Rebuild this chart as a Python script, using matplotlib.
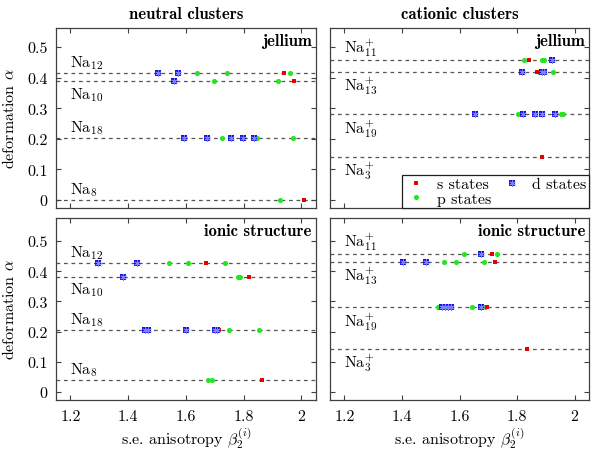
import matplotlib
matplotlib.use("Agg")
import matplotlib.pyplot as plt

plt.rcParams.update({
    "font.family": "serif",
    "font.serif": ["cmr10"],
    "mathtext.fontset": "cm",
    "axes.formatter.use_mathtext": True,
    "font.size": 11.5,
})

# cluster names (labels above / below their dashed line)
neutral_names = [r"Na$_{12}$", r"Na$_{10}$", r"Na$_{18}$", r"Na$_{8}$"]
neutral_above = [True, False, True, True]
cation_names = [r"Na$_{11}^{+}$", r"Na$_{13}^{+}$", r"Na$_{19}^{+}$", r"Na$_{3}^{+}$"]
cation_above = [True, False, False, False]

# jellium, neutral
jn_alpha = [0.414, 0.388, 0.204, 0.0]
jn_s = [[1.939], [1.976], [], [2.009]]
jn_p = [[1.640, 1.741, 1.960], [1.699, 1.920], [1.726, 1.846, 1.972], [1.927]]
jn_d = [[1.505, 1.573], [1.559], [1.593, 1.672, 1.758, 1.797, 1.835], []]

# jellium, cationic
jc_alpha = [0.457, 0.420, 0.281, 0.142]
jc_s = [[1.841], [1.868], [], [1.888]]
jc_p = [[1.823, 1.885, 1.895], [1.876, 1.924], [1.804, 1.952, 1.958], []]
jc_d = [[1.923], [1.816, 1.885, 1.893], [1.653, 1.821, 1.864, 1.885, 1.932], []]

# ionic structure, neutral
in_alpha = [0.427, 0.382, 0.204, 0.040]
in_s = [[1.669], [1.819], [1.716], [1.863]]
in_p = [[1.540, 1.607, 1.737], [1.779, 1.787], [1.748, 1.854], [1.678, 1.690]]
in_d = [[1.294, 1.431], [1.381], [1.460, 1.470, 1.599, 1.700, 1.709], []]

# ionic structure, cationic
ic_alpha = [0.456, 0.432, 0.282, 0.144]
ic_s = [[1.714], [1.723], [1.697], [1.833]]
ic_p = [[1.615, 1.730], [1.546, 1.587, 1.686], [1.524, 1.644, 1.690], []]
ic_d = [[1.673], [1.403, 1.483], [1.538, 1.550, 1.561, 1.571, 1.676], []]

x_ticks = [1.2, 1.4, 1.6, 1.8, 2.0]
x_ticklabels = ["1.2", "1.4", "1.6", "1.8", "2"]
y_ticks = [0, 0.1, 0.2, 0.3, 0.4, 0.5]
y_ticklabels = ["0", "0.1", "0.2", "0.3", "0.4", "0.5"]

RED = "#e80000"
GREEN = "#22e622"
BLUE = "#1010e0"
SPINE = "#404040"


def draw_panel(ax, alpha, s, p, d, names, above):
    handles = {}
    for k, a in enumerate(alpha):
        ax.axhline(a, color="#555555", lw=0.9, ls=(0, (3, 3)), zorder=1)
        off = 1.5 if above[k] else -2.5
        ax.annotate(names[k], (1.2, a), xytext=(0, off), textcoords="offset points",
                    ha="left", va="bottom" if above[k] else "top", fontsize=11.5)
        ys = [a] * len(p[k])
        handles["p"], = ax.plot(p[k], ys, "o", color=GREEN, ms=3.7, mew=0, zorder=3)
        ys = [a] * len(s[k])
        handles["s"], = ax.plot(s[k], ys, "s", color=RED, ms=3.5, mew=0, zorder=4)
        ys = [a] * len(d[k])
        handles["d1"], = ax.plot(d[k], ys, "s", color=BLUE, ms=4.0, mew=0, zorder=5)
        handles["d2"], = ax.plot(d[k], ys, marker=(6, 2, 0), ls="none", color="#8080ff",
                                 ms=4.6, mew=0.6, zorder=6)
    ax.set_xlim(1.15, 2.05)
    ax.set_xticks(x_ticks)
    ax.set_yticks(y_ticks)
    ax.tick_params(direction="in", top=True, right=True, length=3.5, width=0.8,
                   color=SPINE, labelsize=11.5)
    ax.tick_params(axis="x", pad=7)
    ax.tick_params(axis="y", pad=6)
    for sp in ax.spines.values():
        sp.set_color(SPINE)
        sp.set_linewidth(0.9)
    return handles


fig = plt.figure(figsize=(5.93, 4.52), dpi=100)
ax_jn = fig.add_axes([0.0944, 0.5376, 0.438, 0.398])
ax_jc = fig.add_axes([0.5565, 0.5376, 0.4368, 0.398])
ax_in = fig.add_axes([0.0944, 0.1135, 0.438, 0.402])
ax_ic = fig.add_axes([0.5565, 0.1135, 0.4368, 0.402])

draw_panel(ax_jn, jn_alpha, jn_s, jn_p, jn_d, neutral_names, neutral_above)
h = draw_panel(ax_jc, jc_alpha, jc_s, jc_p, jc_d, cation_names, cation_above)
draw_panel(ax_in, in_alpha, in_s, in_p, in_d, neutral_names, neutral_above)
draw_panel(ax_ic, ic_alpha, ic_s, ic_p, ic_d, cation_names, cation_above)

for ax in (ax_jn, ax_jc):
    ax.set_ylim(-0.026, 0.562)
    ax.set_xticklabels([])
for ax in (ax_in, ax_ic):
    ax.set_ylim(-0.025, 0.576)
    ax.set_xticklabels(x_ticklabels)
    ax.set_xlabel(r"s.e. anisotropy $\beta_2^{(i)}$", fontsize=11.5)
    ax.xaxis.set_label_coords(0.5, -0.14)
for ax in (ax_jn, ax_in):
    ax.set_yticklabels(y_ticklabels)
    ax.set_ylabel(r"deformation $\alpha$", fontsize=11.5)
    ax.yaxis.set_label_coords(-0.15, 0.5)
for ax in (ax_jc, ax_ic):
    ax.set_yticklabels([])

bold = dict(family="cmb10", fontsize=12)
ax_jn.set_title("neutral clusters", pad=7, **bold)
ax_jc.set_title("cationic clusters", pad=7, **bold)
for ax, txt in ((ax_jn, "jellium"), (ax_jc, "jellium"),
                (ax_in, "ionic structure"), (ax_ic, "ionic structure")):
    ax.text(0.985, 0.975, txt, transform=ax.transAxes, ha="right", va="top", **bold)

leg = ax_jc.legend([h["s"], h["p"], (h["d1"], h["d2"])], ["s states", "p states", "d states"],
                   loc="lower right", ncol=2, borderaxespad=0, fancybox=False,
                   edgecolor="#202020", framealpha=1, handlelength=1.4, handletextpad=0.6,
                   columnspacing=0.6, borderpad=0.15, labelspacing=0.0, fontsize=11.5)
leg.get_frame().set_linewidth(0.9)

fig.savefig("out.png", dpi=100)
